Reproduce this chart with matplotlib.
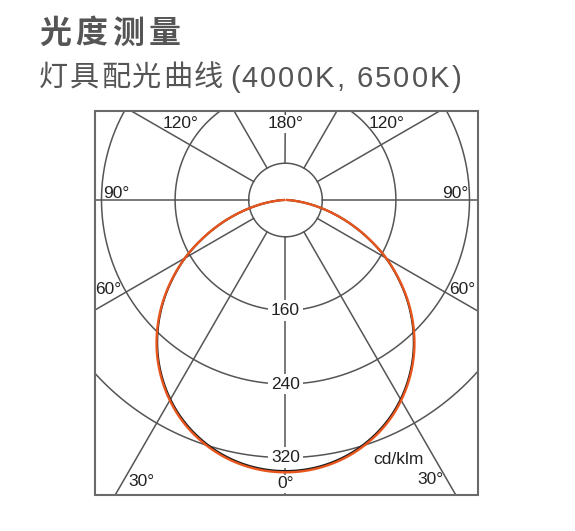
import numpy as np
import matplotlib
matplotlib.use("Agg")
import matplotlib.pyplot as plt
from matplotlib.patches import Rectangle

# ---- data ----
angles_deg = [0, 5, 10, 15, 20, 25, 30, 35, 40, 45, 50, 55, 60, 65, 70, 75, 80, 85, 90]
cd_4000k = [334.6, 333.4, 329.7, 323.5, 314.8, 303.8, 290.2, 274.3, 256.3, 236.0,
            213.9, 190.2, 165.9, 139.8, 114.5, 90.2, 68.4, 50.4, 41.6]
cd_6500k = [336.0, 334.8, 331.1, 324.9, 316.2, 305.2, 291.5, 275.5, 257.4, 237.0,
            214.8, 190.9, 166.4, 140.2, 114.8, 90.4, 68.5, 50.4, 41.6]
ring_values = [80, 160, 240, 320]
ring_labels = ["160", "240", "320"]
spoke_angles = [0, 30, 60, 90, 120, 150, 180, 210, 240, 270, 300, 330]
title = "光度测量"
subtitle_cn = "灯具配光曲线"
subtitle_en = "(4000K, 6500K)"
unit_label = "cd/klm"

W, H = 575, 531
fig = plt.figure(figsize=(W / 100, H / 100), dpi=100)
fams = ["Liberation Sans", "Noto Sans CJK SC", "DejaVu Sans"]
plt.rcParams["font.family"] = fams
renderer = fig.canvas.get_renderer()


def fx(px):
    return px / W


def fy(py):
    return 1 - py / H


def spaced_text(s, x0, ybase, size, spacing, **kw):
    x = x0
    for ch in s:
        t = fig.text(fx(x), fy(ybase), ch, ha="left", va="baseline", fontsize=size, **kw)
        if ch == " ":
            w = size * 100 / 72 * 0.278
        else:
            w = t.get_window_extent(renderer=renderer).width
        x += w + spacing


# geometry (pixels)
cx, cy = 285.5, 200.0
scale = 0.92           # px per cd/klm
r0, rmax = 40, 430
R = scale * (rmax - r0)
ax = fig.add_axes([fx(cx - R), fy(cy + R), 2 * R / W, 2 * R / H], projection="polar")
ax.set_theta_zero_location("S")
ax.set_theta_direction(1)
ax.set_rlim(r0, rmax)
ax.grid(False)
ax.set_xticks([])
ax.set_yticks([])
ax.spines["polar"].set_visible(False)
ax.patch.set_visible(False)

box_l, box_r, box_t, box_b = 94.5, 478.0, 111.0, 495.0
clip = Rectangle((fx(box_l), fy(box_b)), fx(box_r) - fx(box_l), fy(box_t) - fy(box_b),
                 transform=fig.transFigure, facecolor="none", edgecolor="none")
fig.add_artist(clip)
clip.set_visible(False)

grid_c = "#555555"
th = np.linspace(0, 2 * np.pi, 721)
for rv in ring_values:
    ln, = ax.plot(th, np.full_like(th, rv), color=grid_c, lw=1.1, zorder=1)
    ln.set_clip_path(clip)
for a in spoke_angles:
    t = np.deg2rad(a)
    ln, = ax.plot([t, t], [80, rmax], color=grid_c, lw=1.1, zorder=1)
    ln.set_clip_path(clip)


def catmull_rom(y, steps=10):
    y = np.asarray(y, dtype=float)
    yp = np.concatenate([[2 * y[0] - y[1]], y, [2 * y[-1] - y[-2]]])
    out = []
    for i in range(1, len(yp) - 2):
        p0, p1, p2, p3 = yp[i - 1], yp[i], yp[i + 1], yp[i + 2]
        tt = np.linspace(0, 1, steps, endpoint=False)
        out.append(0.5 * ((2 * p1) + (-p0 + p2) * tt + (2 * p0 - 5 * p1 + 4 * p2 - p3) * tt ** 2
                          + (-p0 + 3 * p1 - 3 * p2 + p3) * tt ** 3))
    out.append([y[-1]])
    return np.concatenate(out)


# curves (symmetric distribution)
a = np.array(angles_deg, dtype=float)
full_a = np.concatenate([-a[::-1], a[1:]])
c1 = np.array(cd_4000k)
c2 = np.array(cd_6500k)
v1 = np.concatenate([c1[::-1], c1[1:]])
v2 = np.concatenate([c2[::-1], c2[1:]])
ta = np.deg2rad(catmull_rom(full_a))
ax.plot(ta, catmull_rom(v1), color="#1a1a1a", lw=1.5, zorder=3)
ax.plot(ta, catmull_rom(v2), color="#e8561e", lw=1.7, zorder=4)

# ring labels along 0 deg
for rv, lab in zip(ring_values[1:], ring_labels):
    ax.text(0, rv, lab, ha="center", va="center", fontsize=12.5, color="#222222",
            zorder=6, bbox=dict(boxstyle="square,pad=0.15", fc="white", ec="none"))

# frame
fig.add_artist(Rectangle((fx(box_l), fy(box_b)), fx(box_r) - fx(box_l), fy(box_t) - fy(box_b),
                         transform=fig.transFigure, facecolor="none", edgecolor="#6a6a6a",
                         lw=1.5, zorder=10))

# angle labels
lab_kw = dict(ha="center", va="center", fontsize=12.5, color="#222222")
angle_labels = [("180°", 286, 124, True), ("120°", 181, 124, False), ("120°", 387, 124, False),
                ("90°", 116, 193, False), ("90°", 455, 193, False),
                ("60°", 108, 290, False), ("60°", 462, 290, False),
                ("30°", 141, 481, False), ("30°", 430, 480, False), ("0°", 286, 484, True)]
for txt, px, py, bg in angle_labels:
    kw = dict(lab_kw)
    if bg:
        kw["bbox"] = dict(boxstyle="square,pad=0.1", fc="white", ec="none")
    fig.text(fx(px), fy(py), txt, zorder=8, **kw)
fig.text(fx(398), fy(459), unit_label, ha="center", va="center", fontsize=12.5, color="#222222")

# titles with letter spacing
spaced_text(title, 39, 43, 23, 4.5, color="#555555", fontweight="bold",
            family=["Noto Sans CJK SC", "DejaVu Sans"])
spaced_text(subtitle_cn, 39, 86, 21, 1.8, color="#555555",
            family=["Noto Sans CJK SC", "DejaVu Sans"])
spaced_text(subtitle_en, 230, 87, 21, 2.1, color="#555555", family=fams)

fig.savefig("out.png", dpi=100)
